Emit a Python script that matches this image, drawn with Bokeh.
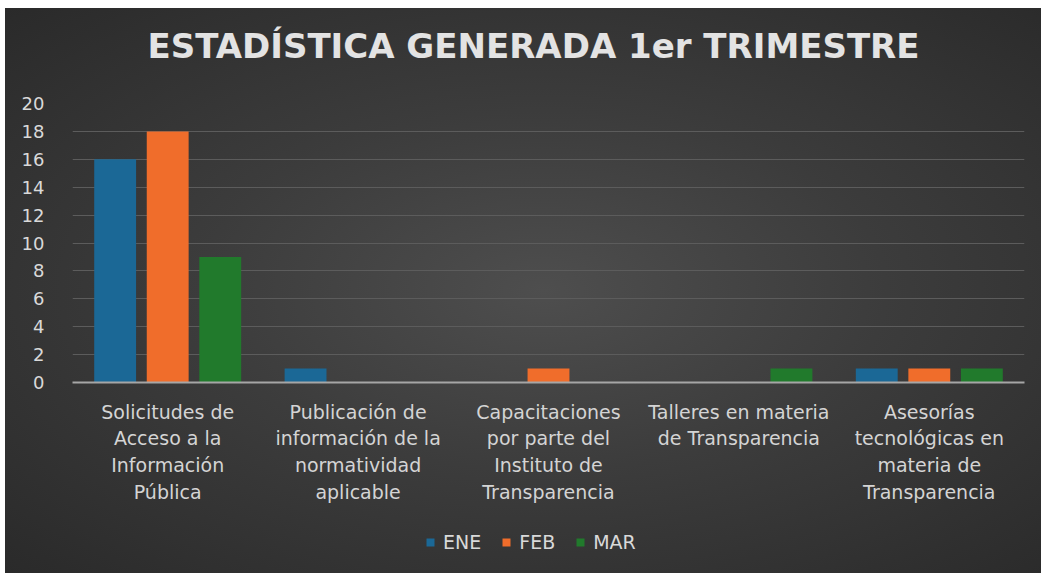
from bokeh.plotting import figure
from bokeh.layouts import column
from bokeh.models import ColumnDataSource, Range1d, FixedTicker, Legend, LegendItem
from bokeh.core.properties import value
from bokeh.embed import file_html
from bokeh.resources import INLINE

title_text = "ESTADÍSTICA GENERADA 1er TRIMESTRE"
categories = [
    "Solicitudes de\nAcceso a la\nInformación\nPública",
    "Publicación de\ninformación de la\nnormatividad\naplicable",
    "Capacitaciones\npor parte del\nInstituto de\nTransparencia",
    "Talleres en materia\nde Transparencia",
    "Asesorías\ntecnológicas en\nmateria de\nTransparencia",
]
series_names = ["ENE", "FEB", "MAR"]
ene = [16, 1, 0, 0, 1]
feb = [18, 0, 1, 0, 1]
mar = [9, 0, 0, 1, 1]
y_ticks = list(range(0, 21, 2))
colors = ["#1b6896", "#f06d2b", "#217a2c"]

W = 1036
BL, BR = 67, 17

def strip(h):
    f = figure(width=W, height=h, output_backend="svg", toolbar_location=None,
               x_range=Range1d(BL, W - BR), y_range=Range1d(0, h),
               x_axis_type=None, y_axis_type=None,
               min_border_left=BL, min_border_right=BR, min_border_top=0, min_border_bottom=0)
    f.background_fill_alpha = 0
    f.border_fill_alpha = 0
    f.outline_line_alpha = 0
    f.grid.grid_line_color = None
    return f

# title strip
p0 = strip(80)
p0.text(x=[528], y=[43], text=[title_text], text_align="center", text_baseline="middle",
        text_font=value("DejaVu Sans"), text_font_style="bold", text_font_size="34px",
        text_color="#e3e3e3")

# main chart
p = figure(width=W, height=430, output_backend="svg", toolbar_location=None,
           x_range=Range1d(0, len(categories)), y_range=Range1d(0, 20),
           min_border_left=BL, min_border_right=BR, min_border_top=15, min_border_bottom=136)
p.background_fill_alpha = 0
p.border_fill_alpha = 0
p.outline_line_alpha = 0

offsets = [-0.276, 0.0, 0.276]
for name, vals, off, col in zip(series_names, [ene, feb, mar], offsets, colors):
    src = ColumnDataSource(dict(x=[i + 0.5 + off for i in range(len(categories))], top=vals))
    p.vbar(x="x", top="top", width=0.22, bottom=0, source=src,
           fill_color=col, line_color=col, line_width=0)

p.xaxis.ticker = FixedTicker(ticks=[i + 0.5 for i in range(len(categories))])
p.xaxis.major_label_overrides = {i + 0.5: c for i, c in enumerate(categories)}
p.xaxis.major_label_text_font = "DejaVu Sans"
p.xaxis.major_label_text_font_size = "19px"
p.xaxis.major_label_text_color = "#d4d4d4"
p.xaxis.major_label_text_line_height = 1.22
p.xaxis.major_label_standoff = 12
p.xaxis.major_tick_line_color = None
p.xaxis.minor_tick_line_color = None
p.xaxis.axis_line_color = "#a6a6a6"
p.xaxis.axis_line_width = 2

p.yaxis.ticker = FixedTicker(ticks=y_ticks)
p.yaxis.major_label_text_font = "DejaVu Sans"
p.yaxis.major_label_text_font_size = "18px"
p.yaxis.major_label_text_color = "#d9d9d9"
p.yaxis.major_label_standoff = 22
p.yaxis.major_tick_line_color = None
p.yaxis.minor_tick_line_color = None
p.yaxis.axis_line_color = None

p.xgrid.grid_line_color = None
p.ygrid.grid_line_color = "#5c5c5c"
p.ygrid.grid_line_width = 1

# legend strip (proxy glyphs kept outside the visible range)
p2 = strip(55)
items = []
for name, col in zip(series_names, colors):
    r = p2.vbar(x=[-100], top=[-50], bottom=[-60], width=1,
                fill_color=col, line_color=col, line_width=0)
    items.append(LegendItem(label=name, renderers=[r]))
legend = Legend(items=items, orientation="horizontal", location=(353, 20),
                background_fill_alpha=0, border_line_alpha=0,
                label_text_font="DejaVu Sans", label_text_font_size="19px",
                label_text_color="#d9d9d9", glyph_width=10, glyph_height=10,
                spacing=20, label_standoff=8, padding=0, margin=0)
p2.add_layout(legend, "center")

layout = column(p0, p, p2, spacing=0)
layout.styles = {"margin-left": "5px", "margin-top": "8px",
                 "background": "radial-gradient(ellipse at 52% 50%, #4e4e4e 0%, #3c3c3c 45%, #2a2a2a 100%)"}

open("out.html", "w").write(file_html(layout, INLINE))
